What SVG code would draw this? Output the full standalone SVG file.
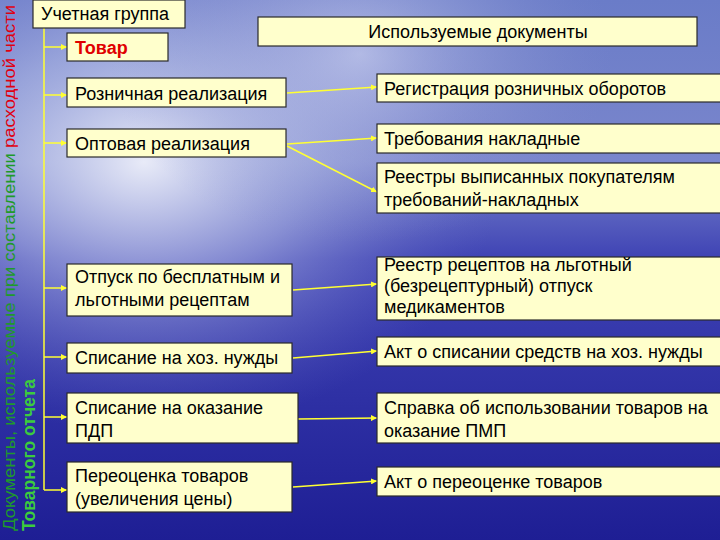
<svg xmlns="http://www.w3.org/2000/svg" width="720" height="540" viewBox="0 0 720 540">
<defs>
<linearGradient id="bg" x1="0" y1="0" x2="0" y2="1">
<stop offset="0" stop-color="#6a7cc8"/>
<stop offset="0.3" stop-color="#7a86cc"/>
<stop offset="0.48" stop-color="#3e42b4"/>
<stop offset="1" stop-color="#1e1e94"/>
</linearGradient>
<radialGradient id="glow" cx="0.2" cy="0.3" r="0.5">
<stop offset="0" stop-color="#eef0fa" stop-opacity="0.95"/>
<stop offset="0.45" stop-color="#b8c0e8" stop-opacity="0.55"/>
<stop offset="1" stop-color="#6a70c8" stop-opacity="0"/>
</radialGradient>
<radialGradient id="glow2" cx="0.5" cy="0.1" r="0.35">
<stop offset="0" stop-color="#d8dcf4" stop-opacity="0.6"/>
<stop offset="1" stop-color="#8890d0" stop-opacity="0"/>
</radialGradient>
<marker id="ah" viewBox="0 0 6 6" refX="6" refY="3" markerWidth="4" markerHeight="4" orient="auto">
<path d="M0,0 L6,3 L0,6 z" fill="#ffff33"/>
</marker>
<style>
.box{fill:#ffffcc;stroke:#2a2a2a;stroke-width:1.2}
.t{font-family:"Liberation Sans",Arial,sans-serif;font-size:18px;fill:#000}
.c{fill:none;stroke:#ffff33;stroke-width:1.5}
.ca{fill:none;stroke:#ffff33;stroke-width:1.5;marker-end:url(#ah)}
</style>
</defs>
<rect x="0" y="0" width="720" height="540" fill="url(#bg)"/>
<rect x="0" y="0" width="720" height="540" fill="url(#glow)"/>
<rect x="0" y="0" width="720" height="540" fill="url(#glow2)"/>

<g id="side-title" font-family="Liberation Sans,Arial,sans-serif">
<text transform="translate(15,531) rotate(-90)" font-size="16" textLength="526" lengthAdjust="spacingAndGlyphs"><tspan fill="#1f9a2a">Документы, используемые при составлении </tspan><tspan fill="#e00010">расходной части</tspan></text>
<text transform="translate(35,531) rotate(-90)" font-size="17.5" font-weight="bold" fill="#3ccc3c">Товарного отчета</text>
</g>

<g id="connectors">
<path class="c" d="M44,28 V490"/>
<path class="ca" d="M44,47 H67"/>
<path class="ca" d="M44,95 H67"/>
<path class="ca" d="M44,143 H67"/>
<path class="ca" d="M44,288 H67"/>
<path class="ca" d="M44,357 H67"/>
<path class="ca" d="M44,417 H67"/>
<path class="ca" d="M44,490 H67"/>
<path class="ca" d="M287,93 L377,87"/>
<path class="ca" d="M287,144 L377,138"/>
<path class="ca" d="M287,146 L377,192"/>
<path class="ca" d="M293,290 L377,284"/>
<path class="ca" d="M293,358 L377,351"/>
<path class="ca" d="M298,419 L377,418"/>
<path class="ca" d="M293,487 L377,481"/>
</g>

<g id="n-uchet"><rect class="box" x="33" y="0" width="152" height="28"/><text class="t" x="41" y="20">Учетная группа</text></g>
<g id="n-tovar"><rect class="box" x="67" y="33" width="101" height="28"/><text class="t" x="75" y="54" style="fill:#e00000;font-weight:bold">Товар</text></g>
<g id="n-docs"><rect class="box" x="258" y="17" width="439" height="29"/><text class="t" x="478" y="38" text-anchor="middle">Используемые документы</text></g>
<g id="n-rozn"><rect class="box" x="67" y="78" width="219" height="29"/><text class="t" x="75" y="100">Розничная реализация</text></g>
<g id="n-opt"><rect class="box" x="67" y="129" width="219" height="28"/><text class="t" x="75" y="150">Оптовая реализация</text></g>
<g id="n-otpusk"><rect class="box" x="67" y="264" width="225" height="52"/><text class="t" x="75" y="283">Отпуск по бесплатным и</text><text class="t" x="75" y="306">льготными рецептам</text></g>
<g id="n-spis-hoz"><rect class="box" x="67" y="343" width="225" height="30"/><text class="t" x="75" y="364">Списание на хоз. нужды</text></g>
<g id="n-spis-pdp"><rect class="box" x="67" y="393" width="231" height="50"/><text class="t" x="75" y="414">Списание на оказание</text><text class="t" x="75" y="437">ПДП</text></g>
<g id="n-pereoc"><rect class="box" x="67" y="462" width="225" height="50"/><text class="t" x="75" y="482">Переоценка товаров</text><text class="t" x="75" y="505">(увеличения цены)</text></g>

<g id="d-reg"><rect class="box" x="377" y="74" width="346" height="28"/><text class="t" x="384" y="95">Регистрация розничных оборотов</text></g>
<g id="d-treb"><rect class="box" x="377" y="124" width="346" height="29"/><text class="t" x="384" y="145">Требования накладные</text></g>
<g id="d-reestr"><rect class="box" x="377" y="163" width="346" height="50"/><text class="t" x="384" y="183">Реестры выписанных покупателям</text><text class="t" x="384" y="206">требований-накладных</text></g>
<g id="d-reestr-rec"><rect class="box" x="377" y="257" width="346" height="63"/><text class="t" x="384" y="271">Реестр рецептов на льготный</text><text class="t" x="384" y="292">(безрецептурный) отпуск</text><text class="t" x="384" y="313">медикаментов</text></g>
<g id="d-akt-spis"><rect class="box" x="377" y="337" width="346" height="29"/><text class="t" x="384" y="358">Акт о списании средств на хоз. нужды</text></g>
<g id="d-spravka"><rect class="box" x="377" y="393" width="346" height="50"/><text class="t" x="384" y="414">Справка об использовании товаров на</text><text class="t" x="384" y="437">оказание ПМП</text></g>
<g id="d-akt-pereoc"><rect class="box" x="377" y="467" width="346" height="29"/><text class="t" x="384" y="488">Акт о переоценке товаров</text></g>
</svg>
